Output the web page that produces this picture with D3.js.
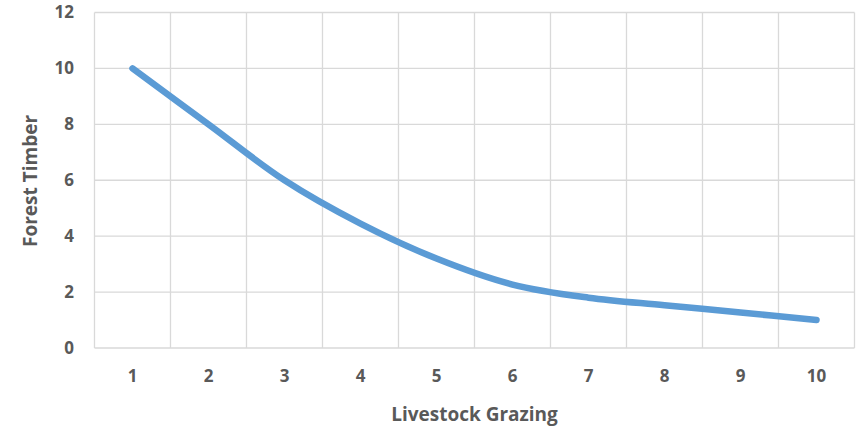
<!DOCTYPE html>
<html>
<head>
<meta charset="utf-8">
<script src="https://cdn.jsdelivr.net/npm/d3@7"></script>
<style>
  html, body { margin: 0; padding: 0; background: #fff; }
  svg { display: block; }
  .tick text { font-family: "Open Sans", sans-serif; font-weight: 700; fill: #595959; }
</style>
</head>
<body>
<svg id="chart" width="864" height="428"></svg>
<script>
// Livestock grazing level vs. forest timber output
const grazing = [1, 2, 3, 4, 5, 6, 7, 8, 9, 10];
const timber = [10, 8, 6, 4.45, 3.2, 2.27, 1.8, 1.53, 1.27, 1.0];
const yTicks = [0, 2, 4, 6, 8, 10, 12];

const svg = d3.select("#chart");
const margin = { left: 94.5, right: 9.5, top: 12.5, bottom: 80 };
const W = 864, H = 428;
const innerW = W - margin.left - margin.right;
const innerH = H - margin.top - margin.bottom;

const x = d3.scaleBand().domain(grazing).range([0, innerW]).padding(0);
const y = d3.scaleLinear().domain([0, 12]).range([innerH, 0]);

const g = svg.append("g").attr("transform", `translate(${margin.left},${margin.top})`);

// horizontal gridlines
g.append("g").selectAll("line").data(yTicks).join("line")
  .attr("x1", 0).attr("x2", innerW)
  .attr("y1", d => y(d)).attr("y2", d => y(d))
  .attr("stroke", "#d9d9d9").attr("stroke-width", 1.3);

// vertical gridlines at category boundaries
const bounds = grazing.map(d => x(d)).concat([innerW]);
g.append("g").selectAll("line").data(bounds).join("line")
  .attr("x1", d => d).attr("x2", d => d)
  .attr("y1", 0).attr("y2", innerH)
  .attr("stroke", "#d9d9d9").attr("stroke-width", 1.3);

// y axis labels
const yAxis = g.append("g")
  .call(d3.axisLeft(y).tickValues(yTicks).tickSize(0).tickPadding(20.5));
yAxis.select(".domain").remove();
yAxis.selectAll("text").style("font-size", "17px");

// x axis labels
const xAxis = g.append("g").attr("transform", `translate(0,${innerH})`)
  .call(d3.axisBottom(x).tickSize(0).tickPadding(22));
xAxis.select(".domain").remove();
xAxis.selectAll("text").style("font-size", "17px");

// smoothed series line
const line = d3.line()
  .x((d, i) => x(grazing[i]) + x.bandwidth() / 2)
  .y(d => y(d))
  .curve(d3.curveCatmullRom.alpha(0.5));

g.append("path").datum(timber)
  .attr("d", line)
  .attr("fill", "none")
  .attr("stroke", "#5b9bd5")
  .attr("stroke-width", 6.5)
  .attr("stroke-linecap", "round")
  .attr("stroke-linejoin", "round");

// axis titles
svg.append("text")
  .attr("x", margin.left + innerW / 2).attr("y", 421)
  .attr("text-anchor", "middle")
  .style("font-family", "'Open Sans', sans-serif")
  .style("font-weight", 700).style("font-size", "19px").style("fill", "#595959")
  .text("Livestock Grazing");

svg.append("text")
  .attr("transform", `translate(36.5,181) rotate(-90)`)
  .attr("text-anchor", "middle")
  .style("font-family", "'Open Sans', sans-serif")
  .style("font-weight", 700).style("font-size", "19px").style("fill", "#595959")
  .text("Forest Timber");
</script>
</body>
</html>
